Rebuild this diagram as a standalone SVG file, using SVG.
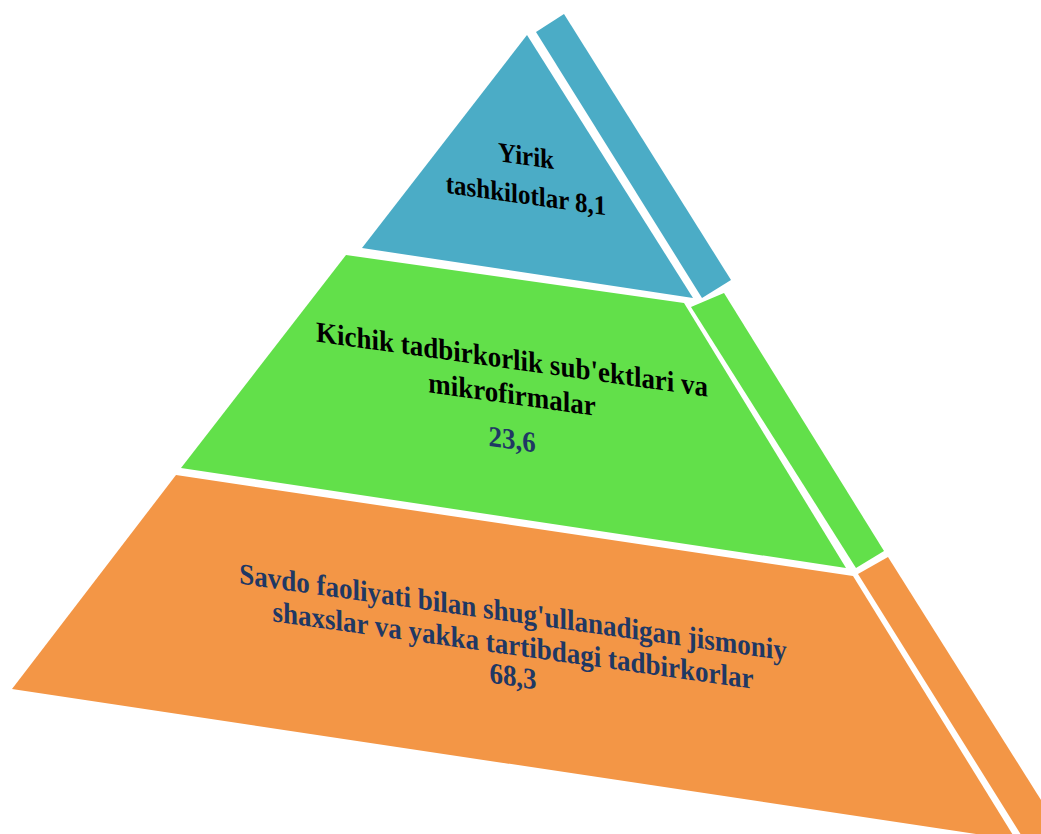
<svg xmlns="http://www.w3.org/2000/svg" width="1041" height="834" viewBox="0 0 1041 834">
<style>
.blue{fill:#4BACC6}
.green{fill:#62E04A}
.orange{fill:#F39646}
.t{font-family:"Liberation Serif","Times New Roman",serif;font-weight:bold;font-size:27px;text-anchor:middle}
.dark{fill:#000000}
.navy{fill:#1F3864}
</style>
<rect width="1041" height="834" fill="#FFFFFF"/>
<g id="layer-top">
<polygon class="blue" points="527,35 693,298 362,248"/>
<polygon class="blue" points="536,32 564,14 731,280 702,298"/>
<g transform="translate(526,0) skewY(8)">
<text class="t dark" style="font-size:25px" transform="translate(0,165) scale(1,1.1)">Yirik</text>
<text class="t dark" style="font-size:25px" transform="translate(0,204) scale(1,1.1)">tashkilotlar 8,1</text>
</g>
</g>
<g id="layer-middle">
<polygon class="green" points="346,255 684,303 846,568 181,468"/>
<polygon class="green" points="691,307 724,293 884,551 856,568"/>
<g transform="translate(512,0) skewY(8)">
<text class="t dark" transform="translate(0,369) scale(1,1.08)">Kichik tadbirkorlik sub'ektlari va</text>
<text class="t dark" transform="translate(0,404) scale(1,1.08)">mikrofirmalar</text>
<text class="t navy" transform="translate(0,449) scale(1,1.08)">23,6</text>
</g>
</g>
<g id="layer-bottom">
<polygon class="orange" points="176,475 853,576 1016,840 12,689"/>
<polygon class="orange" points="858,574 888,557 1070,846 1028,846"/>
<g transform="translate(513,0) skewY(8)">
<text class="t navy" transform="translate(0,622) scale(1,1.1)">Savdo faoliyati bilan shug'ullanadigan jismoniy</text>
<text class="t navy" transform="translate(0,655) scale(1,1.1)">shaxslar va yakka tartibdagi tadbirkorlar</text>
<text class="t navy" transform="translate(0,686) scale(1,1.1)">68,3</text>
</g>
</g>
</svg>
